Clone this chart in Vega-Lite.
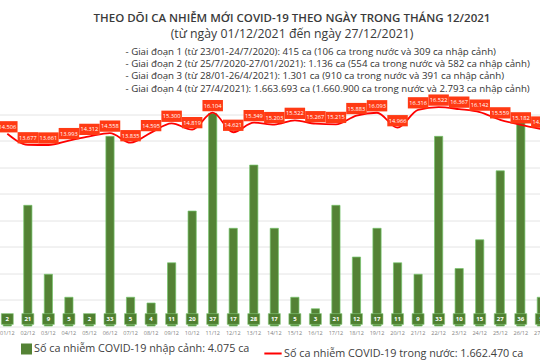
{
  "$schema": "https://vega.github.io/schema/vega-lite/v6.json",
  "width": 540,
  "height": 238.5,
  "autosize": {"type": "none"},
  "padding": {"top": 87.5, "left": 0, "right": 0, "bottom": 34},
  "background": "white",
  "config": {
    "view": {"stroke": null},
    "font": "Open Sans",
    "locale": {"number": {"decimal": ",", "thousands": ".", "grouping": [3], "currency": ["", ""]}}
  },
  "title": {
    "text": "THEO DÕI CA NHIỄM MỚI COVID-19 THEO NGÀY TRONG THÁNG 12/2021",
    "subtitle": "(từ ngày 01/12/2021 đến ngày 27/12/2021)",
    "anchor": "middle",
    "frame": "group",
    "dx": 22,
    "offset": 6,
    "font": "Open Sans",
    "fontSize": 11.5,
    "fontWeight": 600,
    "color": "#3a3a3a",
    "subtitleFont": "Open Sans",
    "subtitleFontSize": 12.3,
    "subtitleColor": "#3a3a3a",
    "subtitlePadding": 3
  },
  "data": {
    "values": [
      {"d": "01/12", "nk": 2, "tn": 14506},
      {"d": "02/12", "nk": 21, "tn": 13677},
      {"d": "03/12", "nk": 9, "tn": 13661},
      {"d": "04/12", "nk": 5, "tn": 13993},
      {"d": "05/12", "nk": 2, "tn": 14312},
      {"d": "06/12", "nk": 33, "tn": 14558},
      {"d": "07/12", "nk": 5, "tn": 13835},
      {"d": "08/12", "nk": 4, "tn": 14595},
      {"d": "09/12", "nk": 11, "tn": 15300},
      {"d": "10/12", "nk": 20, "tn": 14819},
      {"d": "11/12", "nk": 37, "tn": 16104},
      {"d": "12/12", "nk": 17, "tn": 14621},
      {"d": "13/12", "nk": 28, "tn": 15349},
      {"d": "14/12", "nk": 17, "tn": 15203},
      {"d": "15/12", "nk": 5, "tn": 15522},
      {"d": "16/12", "nk": 3, "tn": 15267},
      {"d": "17/12", "nk": 21, "tn": 15215},
      {"d": "18/12", "nk": 12, "tn": 15883},
      {"d": "19/12", "nk": 17, "tn": 16093},
      {"d": "20/12", "nk": 11, "tn": 14966},
      {"d": "21/12", "nk": 9, "tn": 16316},
      {"d": "22/12", "nk": 33, "tn": 16522},
      {"d": "23/12", "nk": 10, "tn": 16367},
      {"d": "24/12", "nk": 15, "tn": 16142},
      {"d": "25/12", "nk": 27, "tn": 15559},
      {"d": "26/12", "nk": 36, "tn": 15182},
      {"d": "27/12", "nk": 5, "tn": 14865}
    ]
  },
  "encoding": {
    "x": {
      "field": "d",
      "type": "ordinal",
      "sort": null,
      "scale": {"range": [-2.97, 551.6], "paddingInner": 0.6, "paddingOuter": 0.3}
    }
  },
  "layer": [
    {
      "encoding": {
        "x": {
          "field": "d", "type": "ordinal", "sort": null,
          "axis": {"orient": "bottom", "title": null, "labelAngle": 0, "labelFontSize": 5.5, "labelColor": "#7f7f7f", "labelPadding": 4, "ticks": false, "domain": false, "grid": false, "labelFont": "Open Sans"}
        },
        "y": {"field": "nk", "type": "quantitative", "scale": {"domain": [0, 41.5], "nice": false, "zero": true}, "axis": null}
      },
      "layer": [
        {
          "mark": {"type": "bar", "stroke": "#74c46a", "strokeWidth": 0.7},
          "encoding": {
            "fill": {
              "datum": "Số ca nhiễm COVID-19 nhập cảnh: 4.075 ca",
              "scale": {"range": ["#548235"]},
              "legend": {"orient": "none", "legendX": 21, "legendY": 256, "title": null, "symbolType": "square", "symbolSize": 121, "symbolStrokeWidth": 0, "labelFontSize": 10.8, "labelColor": "#404040", "labelFont": "Open Sans", "labelOffset": 2, "padding": 0, "labelLimit": 400}
            }
          }
        },
        {
          "mark": {"type": "point", "shape": "M-1,-0.9H1V0.9H-1Z", "size": 144, "filled": true, "fill": "#4f7f30", "stroke": "#86c97a", "strokeWidth": 0.6, "opacity": 1, "yOffset": -7},
          "encoding": {"y": {"datum": 0}}
        },
        {
          "mark": {"type": "text", "color": "white", "fontSize": 6, "fontWeight": "bold", "baseline": "middle", "align": "center", "yOffset": -7, "font": "Open Sans"},
          "encoding": {"y": {"datum": 0}, "text": {"field": "nk", "type": "quantitative"}}
        }
      ]
    },
    {
      "encoding": {
        "x": {
          "field": "d", "type": "ordinal", "sort": null,
          "axis": {
            "orient": "top", "labels": false, "ticks": false, "domain": false, "grid": false,
            "title": [
              "- Giai đoạn 1 (từ 23/01-24/7/2020): 415 ca (106 ca trong nước và 309 ca nhập cảnh)",
              "- Giai đoạn 2 (từ 25/7/2020-27/01/2021): 1.136 ca (554 ca trong nước và 582 ca nhập cảnh)",
              "- Giai đoạn 3 (từ 28/01-26/4/2021): 1.301 ca (910 ca trong nước và 391 ca nhập cảnh)",
              "- Giai đoạn 4 (từ 27/4/2021): 1.663.693 ca (1.660.900 ca trong nước và 2.793 ca nhập cảnh)"
            ],
            "titleAlign": "left", "titleAnchor": "start", "titleX": 125, "titleY": -41.5, "titleBaseline": "top", "titleLimit": 500,
            "titleFont": "Open Sans", "titleFontSize": 9.7, "titleFontWeight": "normal", "titleColor": "#333333", "titleLineHeight": 12.4
          }
        },
        "y": {
          "field": "tn", "type": "quantitative",
          "scale": {"domain": [0, 18000], "nice": false},
          "axis": {"orient": "left", "grid": true, "gridColor": "#e4e4e4", "gridWidth": 1, "values": [0, 2000, 4000, 6000, 8000, 10000, 12000, 14000, 16000], "labels": false, "ticks": false, "domain": false, "title": null}
        }
      },
      "layer": [
        {
          "mark": {"type": "line", "interpolate": "monotone", "strokeWidth": 1.8},
          "encoding": {
            "stroke": {
              "datum": "Số ca nhiễm COVID-19 trong nước: 1.662.470 ca",
              "scale": {"range": ["#ff0000"]},
              "legend": {"orient": "none", "legendX": 263, "legendY": 256, "title": null, "symbolType": "stroke", "symbolSize": 300, "symbolStrokeWidth": 2, "labelFontSize": 10.8, "labelColor": "#404040", "labelFont": "Open Sans", "labelOffset": 1, "padding": 0, "labelLimit": 400}
            }
          }
        },
        {
          "mark": {"type": "point", "shape": "M-1,-0.55H1V0.55H-1Z", "size": 420, "filled": true, "fill": "#ff3a14", "opacity": 1, "strokeWidth": 0, "yOffset": -7}
        },
        {
          "mark": {"type": "text", "color": "white", "fontSize": 5.7, "baseline": "middle", "align": "center", "yOffset": -7, "font": "Open Sans"},
          "encoding": {"text": {"field": "tn", "type": "quantitative", "format": ","}}
        }
      ]
    }
  ],
  "resolve": {"scale": {"y": "independent"}, "axis": {"x": "independent", "y": "independent"}}
}
